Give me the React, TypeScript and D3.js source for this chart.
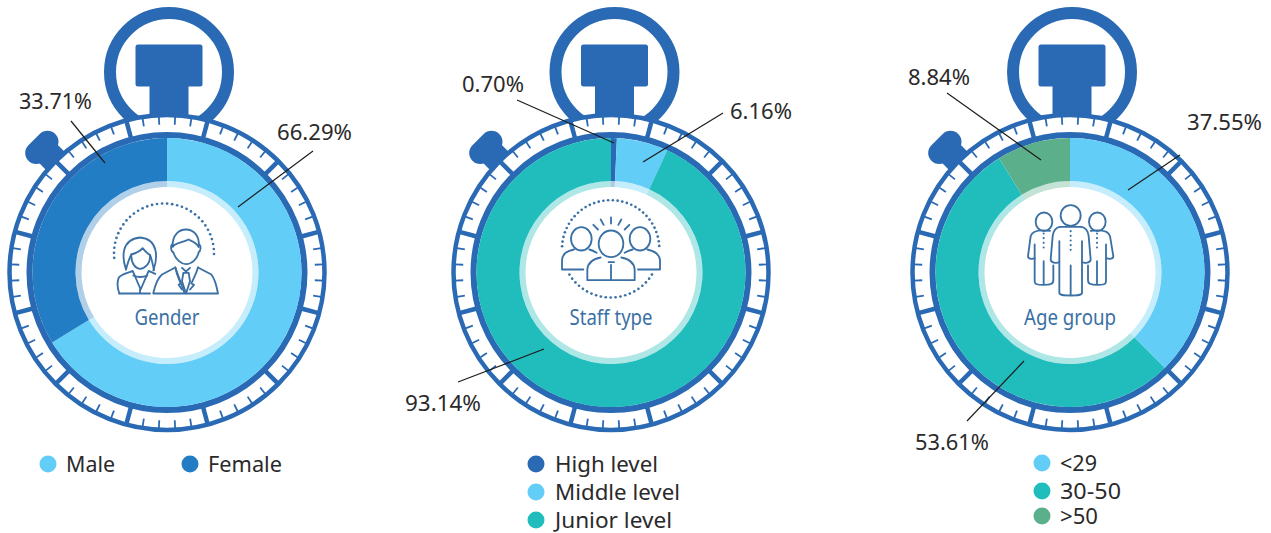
import React from 'react';
import * as d3 from 'd3';

const FONT = '"Noto Sans", sans-serif';
const BLUE = '#2a6ab4';
const ICON = '#3a70a4';
const INK = '#2b2a2b';

// values, clockwise from 12 o'clock
const genderNames = ['Male', 'Female'];
const genderValues = [66.29, 33.71];
const staffNames = ['High level', 'Middle level', 'Junior level'];
const staffValues = [0.7, 6.16, 93.14];
const ageNames = ['<29', '30-50', '>50'];
const ageValues = [37.55, 53.61, 8.84];

const genderColors = ['#62cdf7', '#237dc4'];
const staffColors = ['#2a6ab4', '#62cdf7', '#21bdbd'];
const ageColors = ['#62cdf7', '#21bdbd', '#5bb08b'];

const pie = d3.pie<number>().sort(null).value(d => d);
const sliceArc = d3.arc<d3.PieArcDatum<number>>().innerRadius(91.5).outerRadius(134.5);
const paleArc = d3.arc<d3.PieArcDatum<number>>().innerRadius(85).outerRadius(91.5);

const tickAngles = d3.range(0, 60).map(i => 3 + i * 6);

function polar(r: number, deg: number): [number, number] {
    const a = (deg - 90) * Math.PI / 180;
    return [r * Math.cos(a), r * Math.sin(a)];
}

const Fit = ({ x, y, w, size = 22, fill = INK, anchor = 'start', children }: any) => (
    <text x={x} y={y} fontSize={size} fill={fill} fontFamily={FONT} textAnchor={anchor}
        textLength={w} lengthAdjust="spacingAndGlyphs">{children}</text>
);

function Stopwatch({ cx, cy, crownDx, values, colors, title, titleWidth, children }: any) {
    const slices = pie(values);
    return (
        <g transform={`translate(${cx},${cy})`}>
            {/* crown */}
            <g transform={`translate(${crownDx},0)`}>
                <circle cy={-200.5} r={59} fill="none" stroke={BLUE} strokeWidth={12} />
                <rect x={-33.5} y={-228} width={67} height={42} rx={2.5} fill={BLUE} />
                <rect x={-19.5} y={-190} width={39} height={38} fill={BLUE} />
            </g>
            {/* side button */}
            <g transform="rotate(-45)">
                <rect x={-13} y={-172} width={26} height={16} fill={BLUE} />
                <rect x={-19} y={-188} width={38} height={22} rx={11} fill={BLUE} />
            </g>
            <circle r={157.5} fill="#fff" stroke={BLUE} strokeWidth={4.5} />
            {tickAngles.map((deg, i) => {
                const major = i % 5 === 2;
                const [x1, y1] = polar(major ? 139 : 148, deg);
                const [x2, y2] = polar(156, deg);
                return <line key={deg} x1={x1} y1={y1} x2={x2} y2={y2} stroke={BLUE}
                    strokeWidth={major ? 4.5 : 1.8} />;
            })}
            <circle r={137.5} fill="none" stroke={BLUE} strokeWidth={6} />
            {slices.map((s, i) => <path key={i} d={sliceArc(s) as string} fill={colors[i]} />)}
            {slices.map((s, i) => <path key={i} d={paleArc(s) as string} fill={colors[i]} opacity={0.36} />)}
            <circle r={85.5} fill="#fff" />
            {children}
            <Fit x={0} y={52.5} w={titleWidth} fill={ICON} anchor="middle">{title}</Fit>
        </g>
    );
}

// icons are traced in a 3x grid, so they are scaled down by a third
const Icon = ({ x, y, children }: any) => (
    <g transform={`translate(${x},${y}) scale(${1 / 3})`} fill="none" stroke={ICON} strokeWidth={5.5}
        strokeLinecap="round" strokeLinejoin="round">{children}</g>
);

function dotArc(cx: number, cy: number, r: number, from: number, to: number, step: number) {
    return d3.range(from, to + 0.01, step).map(deg => {
        const [x, y] = polar(r, deg);
        return <circle key={deg} cx={cx + x} cy={cy + y} r={4} fill={ICON} stroke="none" />;
    });
}

const GenderIcon = () => (
    <Icon x={-77} y={-83}>
        {dotArc(222, 192, 150, -95, 92, 5.8)}
        <path d="M108 240C96 205 92 150 150 144C205 148 204 205 190 243" />
        <path d="M108 240C112 225 118 205 124 195C135 192 150 186 158 176C166 186 174 194 180 196C186 210 188 225 192 242" />
        <path d="M124 195C122 225 140 238 150 238C162 238 182 225 180 196" />
        <path d="M88 312C82 295 80 280 86 265C92 255 110 252 128 244L152 300L176 244C184 248 190 250 196 253" />
        <path d="M150 300V312M88 312H180M130 258C140 264 160 264 172 258" />
        <path d="M248 172C246 135 268 120 288 120C310 120 330 138 326 172" />
        <path d="M248 165C244 165 242 170 244 180C246 188 250 188 250 188C256 210 274 224 288 224C304 224 322 210 326 188C332 186 334 170 328 165" />
        <path d="M250 170C256 160 275 160 296 150C305 155 318 158 326 172" />
        <path d="M190 310C196 285 204 265 216 255L256 234L284 312M324 234L364 255C372 265 380 290 384 312H190" />
        <path d="M276 235L288 246L300 235M280 250H296L300 275L288 312L276 275Z" />
        <path d="M256 234C260 256 268 272 272 282L266 286L276 300M324 234C318 256 308 272 304 282L312 286L300 300" />
    </Icon>
);

const StaffIcon = () => (
    <Icon x={-71} y={-83}>
        {dotArc(212, 178, 146, -87, 87, 5.6)}
        {dotArc(212, 178, 146, 122, 238, 5.8)}
        <ellipse cx={124} cy={148} rx={31} ry={35} />
        <ellipse cx={300} cy={148} rx={31} ry={35} />
        <ellipse cx={213} cy={163} rx={37} ry={40} />
        <path d="M66 240V212C68 190 84 184 102 180M148 180C156 182 162 185 170 190M66 240H130" />
        <path d="M254 190C262 185 270 182 278 180M322 180C342 184 358 192 360 212V240H294" />
        <path d="M182 204C160 208 144 216 142 240V272H284V240C282 216 266 208 244 204" />
        <path d="M206 218H222M213 226V270" />
        <path d="M213 84V102M182 90L191 106M244 90L235 106M160 106L174 120M268 106L254 120" />
    </Icon>
);

const AgeIcon = () => (
    <Icon x={-70} y={-83}>
        <ellipse cx={132} cy={97} rx={25} ry={28} />
        <ellipse cx={292} cy={97} rx={25} ry={28} />
        <ellipse cx={212} cy={78} rx={30} ry={31} />
        <path d="M150 124C120 120 96 124 92 140L84 200C84 208 96 210 104 206" />
        <path d="M104 165V275C104 285 112 286 130 286C150 286 160 284 160 272V228M131 215V284" />
        <path d="M272 124C305 120 326 124 330 140L340 200C340 208 328 210 320 206" />
        <path d="M318 165V275C318 285 310 286 292 286C274 286 264 284 264 272V228M291 215V284" />
        <path d="M180 112C165 114 160 125 158 140L152 210C152 220 170 222 178 218V155" />
        <path d="M244 112C259 114 264 125 266 140L272 210C272 220 254 222 246 218V155" />
        <path d="M180 112H244M178 218V310C178 318 190 318 212 318C234 318 246 318 246 310V218M212 228V318" />
        {d3.range(0, 5).map(i => <circle key={i} cx={212} cy={125 + i * 14} r={3.2} fill={ICON} stroke="none" />)}
        {d3.range(0, 4).map(i => <circle key={i} cx={131} cy={132 + i * 14} r={3.2} fill={ICON} stroke="none" />)}
        {d3.range(0, 4).map(i => <circle key={i} cx={291} cy={132 + i * 14} r={3.2} fill={ICON} stroke="none" />)}
    </Icon>
);

const leaders = [
    [71, 121, 105, 163], [313, 151, 238, 207],
    [517, 100, 614, 143], [723, 113, 643, 162], [458, 382, 544, 349],
    [947, 93, 1041, 160], [1180, 155, 1128, 190], [967, 421, 1024, 361],
];

const valueLabels = [
    ['33.71%', 19, 109, 73], ['66.29%', 277, 140, 75],
    ['0.70%', 462, 92, 62], ['6.16%', 730, 119, 62], ['93.14%', 405, 411, 76],
    ['8.84%', 908, 85, 62], ['37.55%', 1187, 130, 75], ['53.61%', 915, 450, 74],
];

const Legend = ({ names, colors, dotX, textX, ys, widths }: any) => (
    <g>
        {names.map((n: string, i: number) => (
            <g key={n}>
                <circle cx={dotX[i]} cy={ys[i]} r={8.5} fill={colors[i]} />
                <Fit x={textX[i]} y={ys[i] + 8} w={widths[i]}>{n}</Fit>
            </g>
        ))}
    </g>
);

export default function App() {
    return (
        <svg width={1271} height={533} style={{ position: 'absolute', left: 0, top: 0, background: '#fff' }}>
            <Stopwatch cx={167} cy={272.5} crownDx={2} values={genderValues} colors={genderColors} title="Gender" titleWidth={65}>
                <GenderIcon />
            </Stopwatch>
            <Stopwatch cx={611} cy={272.5} crownDx={3.5} values={staffValues} colors={staffColors} title="Staff type" titleWidth={83}>
                <StaffIcon />
            </Stopwatch>
            <Stopwatch cx={1070} cy={272.5} crownDx={2} values={ageValues} colors={ageColors} title="Age group" titleWidth={92}>
                <AgeIcon />
            </Stopwatch>

            {leaders.map((l, i) => (
                <line key={i} x1={l[0]} y1={l[1]} x2={l[2]} y2={l[3]} stroke="#1d1d1b" strokeWidth={1.2} />
            ))}
            {valueLabels.map(([t, x, y, w]) => <Fit key={t as string} x={x} y={y} w={w}>{t}</Fit>)}

            <Legend names={genderNames} colors={genderColors} dotX={[48, 190]} textX={[66, 208]}
                ys={[464, 464]} widths={[49, 74]} />
            <Legend names={staffNames} colors={staffColors} dotX={[536, 536, 536]} textX={[555, 555, 555]}
                ys={[464, 492, 520]} widths={[103, 125, 117]} />
            <Legend names={ageNames} colors={ageColors} dotX={[1042, 1042, 1042]} textX={[1060, 1060, 1060]}
                ys={[463, 491, 516]} widths={[37, 61, 38]} />
        </svg>
    );
}
